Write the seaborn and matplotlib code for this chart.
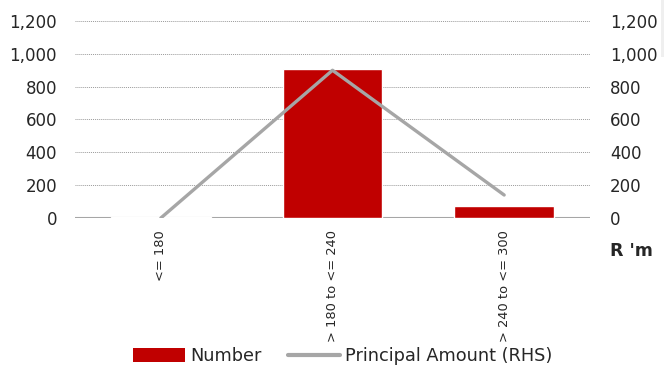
import matplotlib
matplotlib.use("Agg")
import matplotlib.pyplot as plt
from matplotlib.patches import Rectangle, Patch
from matplotlib.lines import Line2D
from matplotlib.ticker import FuncFormatter
import seaborn as sns
import pandas as pd

# Term buckets (months)
categories = ["<= 180", "> 180 to <= 240", "> 240 to <= 300"]
number = [4, 907, 75]
principal = [0, 900, 140]
ticks = [0, 200, 400, 600, 800, 1000, 1200]

sns.set_theme(style="white")
plt.rcParams["font.family"] = ["DejaVu Sans"]

RED = "#c00000"
GREY = "#a6a6a6"
TXT = "#262626"

fig = plt.figure(figsize=(6.64, 3.70), dpi=100)
ax = fig.add_axes([75 / 664, 1 - 218 / 370, 515 / 664, 197 / 370])

df = pd.DataFrame({"term": categories, "number": number, "principal": principal})
sns.barplot(data=df, x="term", y="number", color=RED, saturation=1, width=0.58, ax=ax, zorder=2)

ax2 = ax.twinx()
sns.lineplot(x=[0, 1, 2], y=df["principal"], color=GREY, linewidth=2.4, ax=ax2, sort=False)

fmt = FuncFormatter(lambda v, p: f"{int(v):,}")
for a in (ax, ax2):
    a.set_ylim(0, 1200)
    a.set_yticks(ticks)
    a.yaxis.set_major_formatter(fmt)
    a.set_xlim(-0.5, 2.5)
    a.set_xlabel("")
    a.set_ylabel("")
    for s in a.spines.values():
        s.set_visible(False)
    a.tick_params(axis="y", length=0, labelsize=12, labelcolor=TXT)

ax.tick_params(axis="y", pad=13)
ax2.tick_params(axis="y", pad=14.5)
ax.set_xticks([0, 1, 2])
ax.set_xticklabels(categories, rotation=90, fontsize=9.4, color=TXT)
ax.tick_params(axis="x", length=0, pad=9)

ax.grid(axis="y", color="#9a9a9a", linestyle=(0, (1, 1)), linewidth=0.7, zorder=0)
ax.set_axisbelow(True)
ax.axhline(0, color=GREY, linewidth=1.5, zorder=1.5)

ax2.text(1.039, -0.165, "R 'm", transform=ax2.transAxes, fontsize=12.5,
         fontweight="bold", color=TXT, ha="left", va="center")

handles = [Patch(facecolor=RED, edgecolor="none"),
           Line2D([], [], color=GREY, linewidth=3)]
fig.legend(handles, ["Number", "Principal Amount (RHS)"], loc="center",
           bbox_to_anchor=(0.516, 1 - 356 / 370), ncol=2, frameon=False,
           fontsize=12.8, handlelength=2.9, handleheight=0.8, columnspacing=1.5,
           handletextpad=0.3, labelcolor=TXT, borderpad=0.1)

fig.patches.append(Rectangle((661 / 664, 1 - 57 / 370), 3 / 664, 57 / 370,
                             transform=fig.transFigure, facecolor="#efefef",
                             edgecolor="none"))

fig.savefig("out.png", dpi=100)
